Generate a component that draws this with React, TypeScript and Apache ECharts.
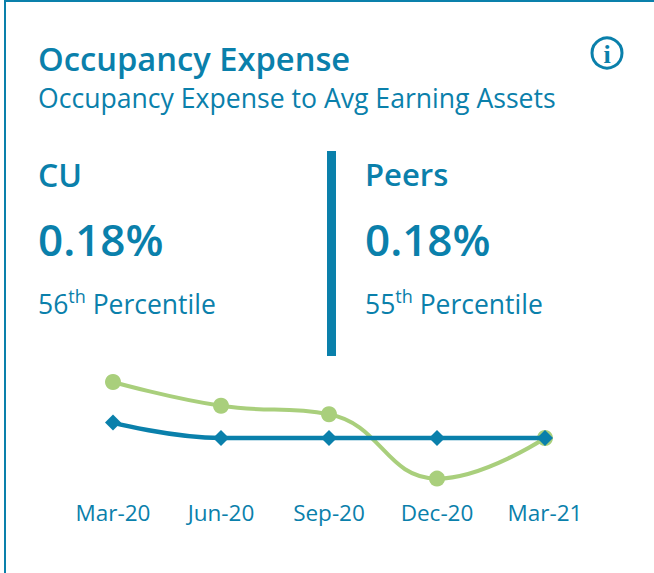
import React, { useEffect, useRef } from "react";
import * as echarts from "echarts";

const categories = ["Mar-20", "Jun-20", "Sep-20", "Dec-20", "Mar-21"];
const peersValues = [0.22, 0.203, 0.197, 0.151, 0.18];
const cuValues = [0.191, 0.18, 0.18, 0.18, 0.18];
const titleText = "Occupancy Expense";
const subtitleText = "Occupancy Expense to Avg Earning Assets";
const cuLabel = "CU";
const peersLabel = "Peers";
const cuValueText = "0.18%";
const peersValueText = "0.18%";
const cuRank = "56";
const peersRank = "55";

const BLUE = "#0a80ab";
const GREEN = "#a9cf7c";
const FONT = "'Open Sans', 'Noto Sans', sans-serif";

const txt = (x: number, y: number, text: string, fontSize: number, fontWeight: any = 400) => ({
  type: "text",
  x,
  y,
  silent: true,
  style: { text, fontSize, fontWeight, fontFamily: FONT, fill: BLUE, align: "left", verticalAlign: "middle" },
});

const rank = (x: number, y: number, n: string) => ({
  type: "text",
  x,
  y,
  silent: true,
  style: {
    text: `{a|${n}}{s|th}{a| Percentile}`,
    align: "left",
    verticalAlign: "middle",
    rich: {
      a: { fontSize: 26.5, fontFamily: FONT, fill: BLUE, color: BLUE, lineHeight: 34 },
      s: { fontSize: 18, fontFamily: FONT, fill: BLUE, color: BLUE, verticalAlign: "top", lineHeight: 34, padding: [0, 0, 11, 0] },
    },
  },
});

export default function App() {
  const ref = useRef<HTMLDivElement>(null);
  useEffect(() => {
    const chart = echarts.init(ref.current!, undefined, { renderer: "svg" });
    chart.setOption({
      animation: false,
      backgroundColor: "#ffffff",
      grid: { left: 113, right: 109, top: 354, bottom: 79 },
      xAxis: {
        type: "category",
        boundaryGap: false,
        data: categories,
        axisLine: { show: false },
        axisTick: { show: false },
        axisLabel: { color: BLUE, fontSize: 22.5, fontFamily: FONT, margin: 7 },
      },
      yAxis: { type: "value", min: 0.14, max: 0.24, show: false },
      series: [
        {
          name: "Peers",
          type: "line",
          data: peersValues,
          smooth: 0.45,
          symbol: "circle",
          symbolSize: 16,
          lineStyle: { color: GREEN, width: 4 },
          itemStyle: { color: GREEN },
          z: 2,
        },
        {
          name: "CU",
          type: "line",
          data: cuValues,
          smooth: 0.45,
          symbol: "diamond",
          symbolSize: 16,
          lineStyle: { color: BLUE, width: 4.5 },
          itemStyle: { color: BLUE },
          z: 3,
        },
      ],
      graphic: [
        { type: "rect", shape: { x: 4, y: 0, width: 2, height: 573 }, style: { fill: BLUE }, silent: true },
        { type: "rect", shape: { x: 4, y: 0, width: 650, height: 2 }, style: { fill: BLUE }, silent: true },
        { type: "rect", shape: { x: 327, y: 151, width: 9, height: 205 }, style: { fill: BLUE }, silent: true },
        txt(38, 58, titleText, 32.7, 600),
        txt(38, 98, subtitleText, 26.6),
        txt(38, 174, cuLabel, 32, 600),
        txt(365, 174, peersLabel, 31, 600),
        txt(38, 239, cuValueText, 44, 600),
        txt(365, 239, peersValueText, 44, 600),
        rank(38, 304, cuRank),
        rank(365, 304, peersRank),
        { type: "circle", shape: { cx: 607, cy: 53, r: 15 }, style: { fill: "none", stroke: BLUE, lineWidth: 3 }, silent: true },
        {
          type: "text",
          x: 607,
          y: 54,
          silent: true,
          style: { text: "i", fontSize: 26, fontWeight: 700, fontFamily: "'Liberation Serif', serif", fill: BLUE, align: "center", verticalAlign: "middle" },
        },
      ],
    });
    return () => chart.dispose();
  }, []);
  return <div ref={ref} style={{ position: "absolute", left: 0, top: 0, width: 654, height: 573 }} />;
}
